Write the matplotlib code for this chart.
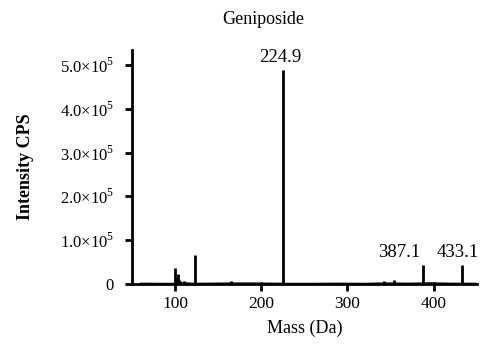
import numpy as np
import matplotlib
matplotlib.use('Agg')
import matplotlib.pyplot as plt

plt.rcParams['font.family'] = ['Liberation Serif', 'DejaVu Serif']
plt.rcParams['mathtext.fontset'] = 'custom'
plt.rcParams['mathtext.rm'] = 'Liberation Serif'
plt.rcParams['mathtext.bf'] = 'Liberation Serif:bold'

# Stick peaks (m/z, intensity)
peak_mass = [100.3, 101.5, 103.0, 104.5, 106.0, 110.0, 123.0, 165.0, 200.0,
             224.9, 342.0, 354.0, 387.1, 400.0, 433.1]
peak_int = [36000, 14000, 22000, 9000, 6000, 6000, 66000, 6000, 3500,
            489000, 6000, 9000, 43000, 5000, 43000]

# Low baseline noise
base_mass = [60, 80, 99, 112, 122, 140, 164, 190, 215, 230, 260, 290, 320,
             340, 350, 370, 386, 395, 405, 420, 432, 450]
base_int = [1500, 1200, 1200, 2500, 1200, 1500, 2000, 2000, 1500, 1200,
            1200, 1500, 1200, 2000, 2000, 1500, 2000, 2500, 2000, 1500, 1500, 1200]

labels = ['224.9', '387.1', '433.1']
label_int = [489000, 43000, 43000]
label_x = [222.0, 360.5, 428.5]

yticks = [0, 1e5, 2e5, 3e5, 4e5, 5e5]
ytick_labels = ['0', r'1.0$\times$10$^{5}$', r'2.0$\times$10$^{5}$',
                r'3.0$\times$10$^{5}$', r'4.0$\times$10$^{5}$', r'5.0$\times$10$^{5}$']

fig = plt.figure(figsize=(4.87, 3.47), dpi=100)
ax = fig.add_axes([0.271, 0.1816, 0.708, 0.675])

ax.plot(base_mass, base_int, color='black', lw=1.0)
ax.vlines(peak_mass, 0, peak_int, color='black', lw=2)

for t, x, h in zip(labels, label_x, label_int):
    ax.text(x, h + 9000, t, ha='center', va='bottom', fontsize=13.5)

ax.set_xlim(50, 450)
ax.set_ylim(0, 5.35e5)
ax.set_xticks([100, 200, 300, 400])
ax.set_yticks(yticks)
ax.set_yticklabels(ytick_labels)
ax.tick_params(axis='both', direction='out', length=5, width=2, labelsize=12.5)
ax.tick_params(axis='y', labelsize=12, pad=8)

for s in ['top', 'right']:
    ax.spines[s].set_visible(False)
for s in ['left', 'bottom']:
    ax.spines[s].set_linewidth(2)

ax.set_xlabel('Mass (Da)', fontsize=13, labelpad=6)
ax.set_ylabel('Intensity CPS', fontsize=13, fontweight='bold')
ax.yaxis.set_label_coords(-0.285, 0.5)
fig.text(263 / 487, 1 - 19 / 347, 'Geniposide', ha='center', va='center', fontsize=13)

fig.savefig('out.png', dpi=100)
